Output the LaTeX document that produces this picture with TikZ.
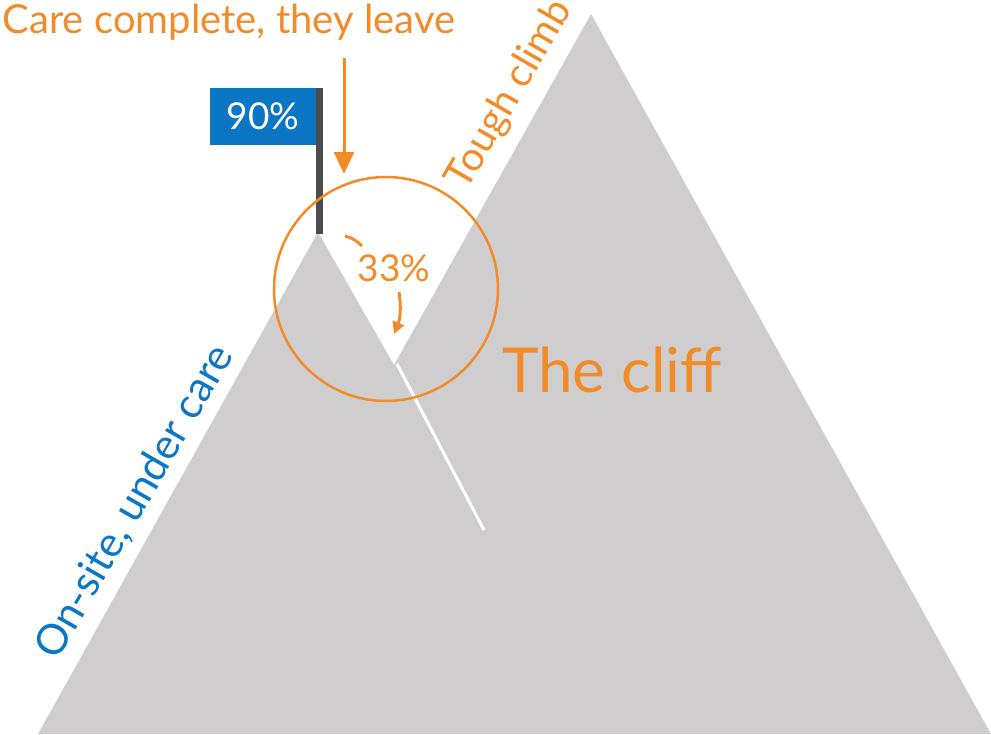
\documentclass[tikz,border=0pt]{standalone}
\usepackage{fontspec}
\setmainfont{Lato}
\usetikzlibrary{arrows.meta}
\definecolor{org}{HTML}{F28C28}
\definecolor{blu}{HTML}{0B77C4}
\definecolor{mtn}{HTML}{CFCDCE}
\tikzset{lbl/.style={text=org,inner sep=0pt}, arr/.style={org,line width=3pt,-{Triangle[length=22pt,width=20pt]}}}
\begin{document}
\begin{tikzpicture}[x=1pt,y=-1pt]
\useasboundingbox (0,0) rectangle (991,734);
\fill[mtn] (38,734) -- (318,232) -- (394,365) -- (591,14) -- (991,734) -- cycle;
\coordinate (w1) at (397,364); \coordinate (w2) at (484,530);
\draw[white,line width=3pt] (w1) -- (w2);
\fill[black!70] (316,88) rectangle (323,234);
\node[fill=blu,text=white,minimum width=106pt,minimum height=57pt,inner sep=0pt,font=\fontsize{37}{37}\selectfont] (flag) at (263,116) {90\%};
\node[draw=org,line width=2.5pt,circle,minimum size=224pt] (circ) at (386,289) {};
\node[lbl,font=\fontsize{40}{40}\selectfont] (care) at (229,22) {Care complete, they leave};
\coordinate (a1) at (344,58); \coordinate (a2) at (344,174);
\draw[arr] (a1) -- (a2);
\node[lbl,font=\fontsize{40}{40}\selectfont,rotate=60] (tough) at (510,95) {Tough climb};
\node[inner sep=0pt,text=blu,font=\fontsize{42}{42}\selectfont,rotate=60] (onsite) at (135,502) {On-site, under care};
\node[lbl,font=\fontsize{37}{37}\selectfont] (pct) at (394,268) {33\%};
\coordinate (c1) at (345,236); \coordinate (c0) at (362,246);
\coordinate (c3) at (399,292); \coordinate (c2) at (394,334);
\draw[org,line width=3pt] (c1) to[bend left=15] (c0);
\draw[org,line width=3pt,-{Triangle[length=12pt,width=12pt]}] (c3) to[bend left=15] (c2);
\node[lbl,font=\fontsize{62}{62}\selectfont] (cliff) at (612,370) {The cliff};
\end{tikzpicture}
\end{document}
